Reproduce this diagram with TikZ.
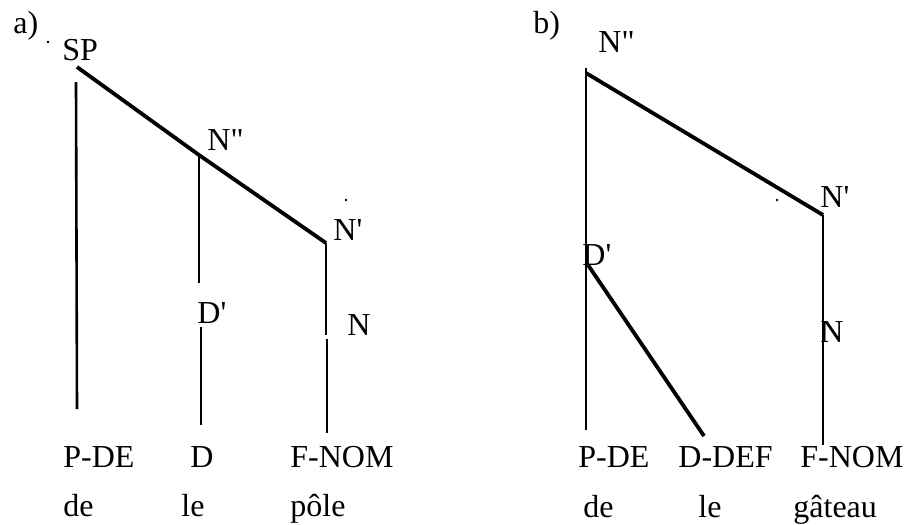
\documentclass[tikz,border=0pt]{standalone}
\usepackage{fontspec}
\setmainfont{Liberation Serif}[Ligatures=TeXOff]
\usetikzlibrary{positioning}

\begin{document}
\begin{tikzpicture}[
  x=0.5pt, y=-0.5pt,
  font=\fontsize{16}{18}\selectfont,
  lbl/.style={inner sep=0pt, anchor=base west},
  branch/.style={line width=1.9pt},
  stem/.style={line width=1.3pt},
  speck/.style={fill=black}
]
\useasboundingbox (0,0) rectangle (906,525);

% a) SP -> N'' -> N'
\node[lbl] (taga)  at (13,33)  {a)};
\node[lbl] (spa)   at (62,60)  {SP};
\node[lbl] (nppa)  at (207,150) {N"};
\node[lbl] (npa)   at (333,240) {N'};
\node[lbl] (dpa)   at (197,323) {D'};
\node[lbl] (na)    at (347,335) {N};
\node[lbl] (pdea)  at (63,467)  {P-DE};
\node[lbl] (da)    at (190,467) {D};
\node[lbl] (fnoma) at (290,467) {F-NOM};
\node[lbl] (dea)   at (63,516)  {de};
\node[lbl] (lea)   at (181,516) {le};
\node[lbl] (polea) at (290,516) {pôle};

\coordinate (spa-r)   at (77,67);
\coordinate (nppa-j)  at (199,155);
\coordinate (npa-j)   at (326,243);
\coordinate (pdea-t)  at (76,82);
\coordinate (pdea-b)  at (77,409);
\coordinate (nppa-b)  at (199,283);
\coordinate (dpa-b)   at (201,327);
\coordinate (da-t)    at (201,425);
\coordinate (npa-b)   at (326,335);
\coordinate (na-t)    at (327,339);
\coordinate (fnoma-t) at (327,433);

\draw[branch] (spa-r) -- (nppa-j) -- (npa-j);
\draw[stem] (pdea-t) -- (pdea-b);
\draw[stem] (nppa-j) -- (nppa-b);
\draw[stem] (dpa-b) -- (da-t);
\draw[stem] (npa-j) -- (npa-b);
\draw[stem] (na-t) -- (fnoma-t);

\fill[speck] (48,42) circle (1.3);
\fill[speck] (346,200) circle (1.3);

% b) N'' -> D' / N'
\node[lbl] (tagb)  at (533,33)  {b)};
\node[lbl] (nppb)  at (598,52)  {N"};
\node[lbl] (npb)   at (820,207) {N'};
\node[lbl] (dpb)   at (582,265) {D'};
\node[lbl] (nb)    at (820,342) {N};
\node[lbl] (pdeb)  at (578,467) {P-DE};
\node[lbl] (ddefb) at (678,467) {D-DEF};
\node[lbl] (fnomb) at (800,467) {F-NOM};
\node[lbl] (deb)   at (583,517) {de};
\node[lbl] (leb)   at (698,517) {le};
\node[lbl] (gatb)  at (793,517) {gâteau};

\coordinate (nppb-t)  at (586,68);
\coordinate (nppb-j)  at (586,73);
\coordinate (npb-j)   at (823,215);
\coordinate (pdeb-t)  at (586,430);
\coordinate (dpb-j)   at (588,265);
\coordinate (ddefb-t) at (704,436);
\coordinate (fnomb-t) at (823,445);

\draw[stem] (nppb-t) -- (pdeb-t);
\draw[branch] (nppb-j) -- (npb-j);
\draw[branch] (dpb-j) -- (ddefb-t);
\draw[stem] (npb-j) -- (fnomb-t);

\fill[speck] (777,200) circle (1.3);
\end{tikzpicture}
\end{document}
